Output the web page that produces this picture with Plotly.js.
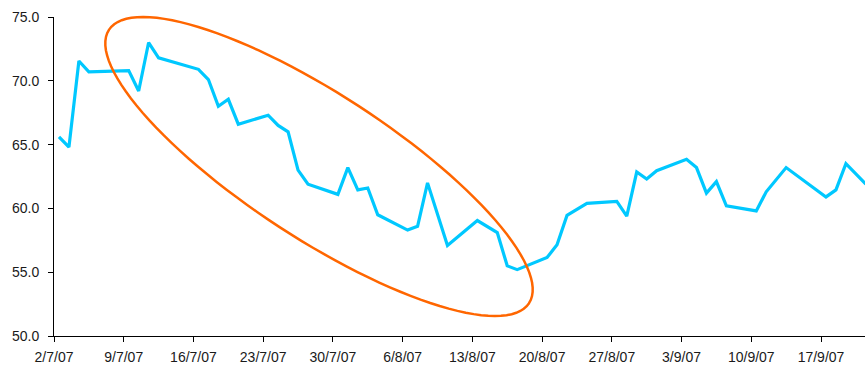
<!DOCTYPE html>
<html>
<head>
<meta charset="utf-8">
<script src="https://cdn.plot.ly/plotly-3.0.1.min.js"></script>
<style>html,body{margin:0;padding:0;background:#fff;}#chart{width:865px;height:367px;}</style>
</head>
<body>
<div id="chart"></div>
<script>
// Trading days (weekdays) and values
const dates = [
  '2007-07-02','2007-07-03','2007-07-04','2007-07-05','2007-07-09','2007-07-10','2007-07-11','2007-07-12',
  '2007-07-16','2007-07-17','2007-07-18','2007-07-19','2007-07-20','2007-07-23','2007-07-24','2007-07-25',
  '2007-07-26','2007-07-27','2007-07-30','2007-07-31','2007-08-01','2007-08-02','2007-08-03','2007-08-06',
  '2007-08-07','2007-08-08','2007-08-10','2007-08-13','2007-08-15','2007-08-16','2007-08-17','2007-08-20',
  '2007-08-21','2007-08-22','2007-08-24','2007-08-27','2007-08-28','2007-08-29','2007-08-30','2007-08-31',
  '2007-09-03','2007-09-04','2007-09-05','2007-09-06','2007-09-07','2007-09-10','2007-09-11','2007-09-13',
  '2007-09-17','2007-09-18','2007-09-19','2007-09-21'
];
const values = [
  65.6, 64.8, 71.55, 70.7, 70.8, 69.2, 73.0, 71.8,
  70.9, 70.1, 68.0, 68.55, 66.6, 67.3, 66.5, 66.0,
  63.0, 61.9, 61.1, 63.2, 61.45, 61.6, 59.5, 58.3,
  58.6, 62.0, 57.1, 59.05, 58.1, 55.5, 55.2, 56.15,
  57.15, 59.45, 60.4, 60.55, 59.4, 62.85, 62.3, 62.95,
  63.85, 63.2, 61.2, 62.1, 60.2, 59.8, 61.3, 63.2,
  60.9, 61.45, 63.5, 61.9
];
const yTicks = [50, 55, 60, 65, 70, 75];

// plot geometry (pixels)
const W = 865, H = 367, ML = 54, MR = 0, MT = 17, MB = 31;
const PW = W - ML - MR, PH = H - MT - MB;

// points sit in the middle of each day slot
const xs = dates.map(d => d + ' 12:00');

// highlight ellipse (pixel geometry -> paper coords)
const cx = 319, cy = 166.5, ea = 250.6, eb = 72.3, th = 33.05 * Math.PI / 180;
let path = '';
for (let i = 0; i <= 120; i++) {
  const t = 2 * Math.PI * i / 120;
  const px = cx + ea * Math.cos(t) * Math.cos(th) - eb * Math.sin(t) * Math.sin(th);
  const py = cy + ea * Math.cos(t) * Math.sin(th) + eb * Math.sin(t) * Math.cos(th);
  const u = (px - ML) / PW, v = (H - MB - py) / PH;
  path += (i === 0 ? 'M ' : ' L ') + u.toFixed(5) + ',' + v.toFixed(5);
}
path += ' Z';

const trace = {
  x: xs, y: values, type: 'scatter', mode: 'lines',
  line: {color: '#00C8FF', width: 3.2},
  hoverinfo: 'skip'
};

const layout = {
  width: W, height: H,
  margin: {l: ML, r: MR, t: MT, b: MB, pad: 0},
  paper_bgcolor: '#fff', plot_bgcolor: '#fff',
  font: {family: '"Liberation Sans Narrow", "Liberation Sans", Arial, sans-serif', size: 14, color: '#1a1a1a'},
  showlegend: false,
  xaxis: {
    type: 'date',
    range: ['2007-07-02 00:00', '2007-09-21 10:00'],
    tick0: '2007-07-02', dtick: 7 * 24 * 3600 * 1000,
    tickformat: '%-d/%-m/%y',
    showgrid: false, zeroline: false,
    showline: true, linecolor: '#000', linewidth: 1,
    ticks: 'outside', ticklen: 5, tickcolor: '#000', tickwidth: 1,
    ticklabelstandoff: 3
  },
  yaxis: {
    range: [50, 75],
    tickvals: yTicks, tickformat: '.1f',
    showgrid: false, zeroline: false,
    showline: true, linecolor: '#000', linewidth: 1,
    ticks: 'outside', ticklen: 5, tickcolor: '#000', tickwidth: 1,
    ticklabelstandoff: 6
  },
  shapes: [{
    type: 'path', xref: 'paper', yref: 'paper', path: path,
    line: {color: '#FF6600', width: 2.5}, fillcolor: 'rgba(0,0,0,0)', layer: 'above'
  }]
};

Plotly.newPlot('chart', [trace], layout, {staticPlot: true, displayModeBar: false});
</script>
</body>
</html>
